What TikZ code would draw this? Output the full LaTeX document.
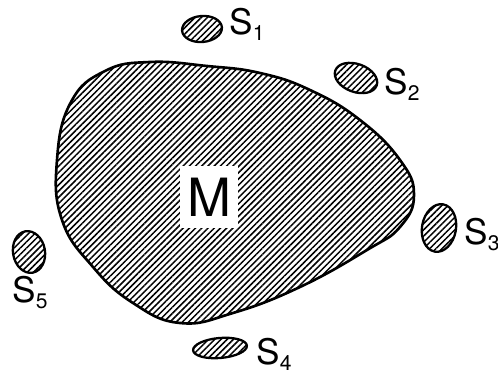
\documentclass[tikz,border=0pt]{standalone}
\usepackage{fontspec}
\setmainfont{TeX Gyre Heros}
\usetikzlibrary{patterns.meta}
\newcommand{\slabel}[1]{S\raisebox{-3pt}{\fontsize{12}{12}\selectfont #1}}

\begin{document}
\begin{tikzpicture}[x=0.02cm, y=-0.02cm, line cap=round, line join=round,
    hatch/.style={pattern={Lines[angle=45, distance=2.5pt, line width=0.85pt]}, pattern color=black},
    rim/.style={draw=black, line width=1.3pt},
    slab/.style={anchor=base west, inner sep=0pt, font=\fontsize{20}{20}\selectfont}]
        \useasboundingbox (0,0) rectangle (498,374);
        \draw[hatch, rim, line width=1.5pt] plot[smooth cycle, tension=0.75] coordinates {
            (57,160) (71,102) (105,71) (150,62) (207,66) (260,73) (310,90) (360,120)
            (400,160) (414,195) (400,227) (367,250) (300,287) (233,313) (180,323)
            (133,303) (93,267) (62,220)};
        \node[fill=white, inner sep=0pt, minimum width=1.18cm, minimum height=1.24cm,
            font=\fontsize{30}{30}\selectfont] (M) at (209,197) {M};
        \draw[hatch, rim] (202,29) ellipse [x radius=20, y radius=13, rotate=5];
        \draw[hatch, rim] (356,78) ellipse [x radius=22, y radius=14, rotate=-20];
        \draw[hatch, rim] (439,228) ellipse [x radius=17, y radius=24, rotate=-10];
        \draw[hatch, rim] (220,348) ellipse [x radius=27, y radius=10, rotate=5];
        \draw[hatch, rim] (29,252) ellipse [x radius=16, y radius=21, rotate=10];
        \node[slab] (s1) at (229,35) {\slabel{1}};
        \node[slab] (s2) at (384,95) {\slabel{2}};
        \node[slab] (s3) at (464,245) {\slabel{3}};
        \node[slab] (s4) at (256,365) {\slabel{4}};
        \node[slab] (s5) at (12,303) {\slabel{5}};
    \end{tikzpicture}
\end{document}
